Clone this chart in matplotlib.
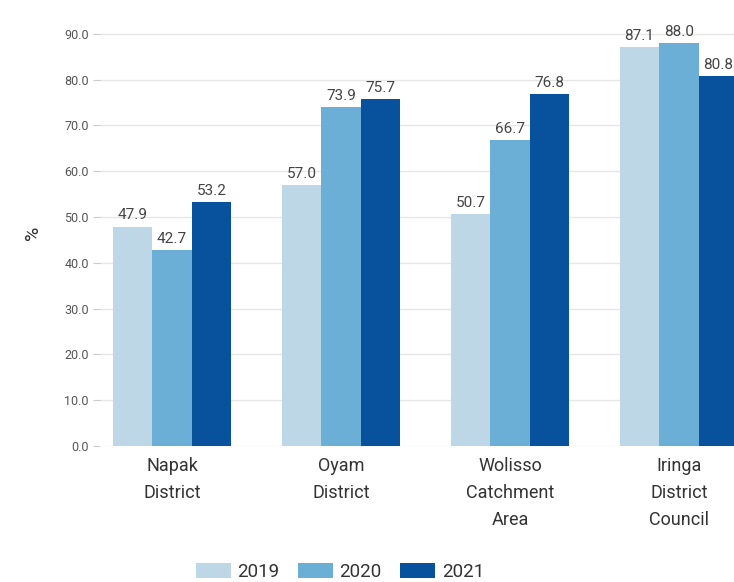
import matplotlib.pyplot as plt
import numpy as np

categories = ["Napak\nDistrict", "Oyam\nDistrict", "Wolisso\nCatchment\nArea", "Iringa\nDistrict\nCouncil"]
years = ["2019", "2020", "2021"]
values_2019 = [47.9, 57.0, 50.7, 87.1]
values_2020 = [42.7, 73.9, 66.7, 88.0]
values_2021 = [53.2, 75.7, 76.8, 80.8]
colors = ["#bdd7e7", "#6baed6", "#08519c"]

plt.rcParams['font.family'] = ['Roboto', 'DejaVu Sans']

W, H = 734, 582
fig = plt.figure(figsize=(W / 100, H / 100), dpi=100)
# axes placed in pixel terms: left 100, right edge of figure, bottom 446, top 20
ax = fig.add_axes([100 / W, 1 - 446 / H, 1 - 100 / W, (446 - 20) / H])

x = np.arange(len(categories))
width = 0.234
series = [values_2019, values_2020, values_2021]
for i, (vals, year, col) in enumerate(zip(series, years, colors)):
    bars = ax.bar(x + (i - 1) * width, vals, width, color=col, label=year, zorder=3)
    for b, v in zip(bars, vals):
        ax.annotate(f"{v:.1f}", (b.get_x() + b.get_width() / 2, v),
                    xytext=(0, 3), textcoords="offset points",
                    ha="center", va="bottom", fontsize=11, color="#444444")

ax.set_xlim(-0.426, 3.325)
ax.set_ylim(0, 93)
ax.set_yticks(np.arange(0, 91, 10))
ax.set_yticklabels([f"{t:.1f}" for t in np.arange(0, 91, 10)])
ax.tick_params(axis="y", length=5, color="#cccccc", labelsize=9, labelcolor="#555555", pad=3)
ax.set_xticks(x)
ax.set_xticklabels(categories, fontsize=13, color="#333333", linespacing=1.65)
ax.tick_params(axis="x", length=0, pad=8)
ax.grid(axis="y", color="#e6e6e6", linewidth=1, zorder=0)
for s in ax.spines.values():
    s.set_visible(False)

ax.set_ylabel("%", fontsize=14, color="#333333", labelpad=16)

handles, labels = ax.get_legend_handles_labels()
fig.legend(handles, labels, loc="center", bbox_to_anchor=(340 / W, 1 - 572 / H),
           ncol=3, frameon=False, fontsize=13.5, handlelength=1.85, handleheight=0.8,
           handletextpad=0.35, columnspacing=1.0, labelcolor="#333333")

plt.savefig("out.png", dpi=100)
